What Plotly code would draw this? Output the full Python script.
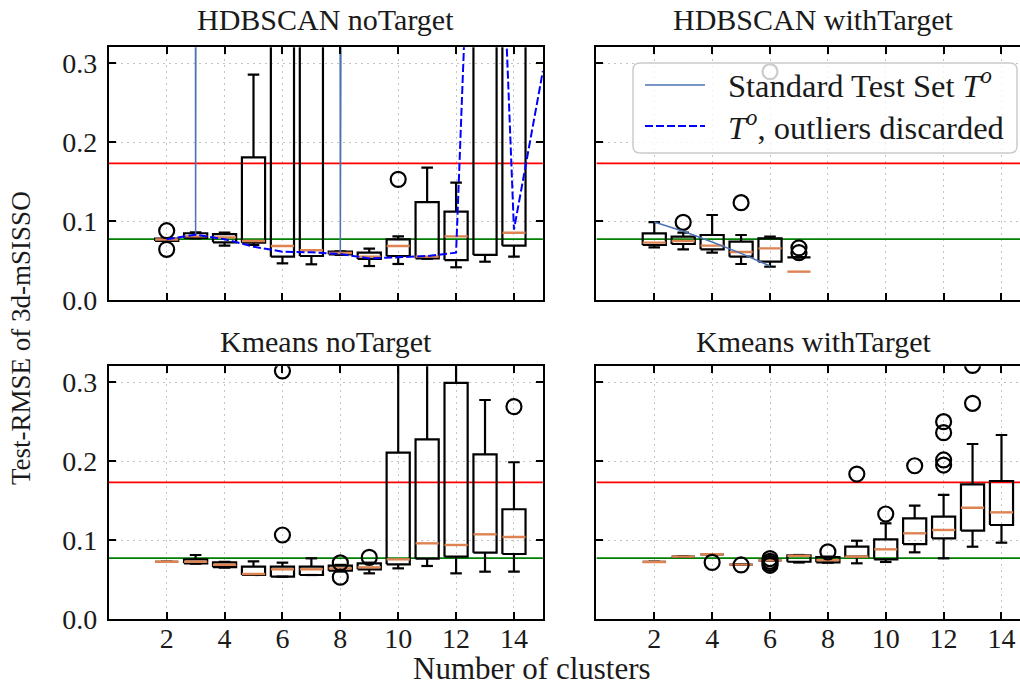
import plotly.graph_objects as go

# ---------------------------------------------------------------- data
clusters = [2, 3, 4, 5, 6, 7, 8, 9, 10, 11, 12, 13, 14]

# HDBSCAN noTarget
hn_q1 = [0.0748, 0.0785, 0.0730, 0.0725, 0.0549, 0.0557, 0.0578, 0.0519, 0.0557, 0.0528, 0.0506, 0.0570, 0.0688]
hn_med = [0.0765, 0.0805, 0.0793, 0.0747, 0.0684, 0.0630, 0.0595, 0.0549, 0.0684, 0.0549, 0.0805, 0.4600, 0.0852]
hn_q3 = [0.0778, 0.0845, 0.0835, 0.1806, 0.5200, 0.4800, 0.0612, 0.0599, 0.0768, 0.1240, 0.1118, 0.9500, 0.5400]
hn_lo = [0.0748, 0.0780, 0.0688, 0.0696, 0.0464, 0.0452, 0.0572, 0.0430, 0.0456, 0.0522, 0.0414, 0.0485, 0.0549]
hn_hi = [0.0778, 0.0857, 0.0852, 0.2852, 0.9000, 0.8800, 0.0616, 0.0650, 0.0806, 0.1675, 0.1485, 1.6000, 0.9500]
hn_fliers = {2: [0.0877, 0.0641], 10: [0.1527]}

# HDBSCAN withTarget
hw_pos = [2, 3, 4, 5, 6, 7]
hw_q1 = [0.0696, 0.0709, 0.0641, 0.0549, 0.0485, 0.0540]
hw_med = [0.0726, 0.0747, 0.0688, 0.0608, 0.0654, 0.0359]
hw_q3 = [0.0844, 0.0802, 0.0823, 0.0738, 0.0781, 0.0540]
hw_lo = [0.0667, 0.0641, 0.0599, 0.0456, 0.0422, 0.0540]
hw_hi = [0.0987, 0.0852, 0.1076, 0.0823, 0.0802, 0.0540]
hw_fliers = {3: [0.0983], 5: [0.1232], 6: [0.289], 7: [0.0660, 0.0600]}

# Kmeans noTarget
kn_q1 = [0.0725, 0.0705, 0.0656, 0.0557, 0.0536, 0.0557, 0.0612, 0.0629, 0.0692, 0.0764, 0.0789, 0.0840, 0.0823]
kn_med = [0.0725, 0.0725, 0.0686, 0.0570, 0.0629, 0.0629, 0.0641, 0.0654, 0.0755, 0.0958, 0.0937, 0.1072, 0.1038]
kn_q3 = [0.0725, 0.0755, 0.0718, 0.0662, 0.0662, 0.0662, 0.0675, 0.0705, 0.2105, 0.2275, 0.2990, 0.2085, 0.1389]
kn_lo = [0.0725, 0.0700, 0.0650, 0.0557, 0.0536, 0.0557, 0.0600, 0.0578, 0.0641, 0.0671, 0.0578, 0.0599, 0.0599]
kn_hi = [0.0725, 0.0810, 0.0722, 0.0730, 0.0713, 0.0768, 0.0685, 0.0713, 0.4500, 0.5000, 0.6000, 0.2772, 0.1984]
kn_fliers = {6: [0.1063, 0.3140], 8: [0.0710, 0.0530], 9: [0.0780], 14: [0.2688]}

# Kmeans withTarget
kw_q1 = [0.0722, 0.0789, 0.0819, 0.0688, 0.0743, 0.0725, 0.0718, 0.0789, 0.0756, 0.0949, 0.1021, 0.1118, 0.1190]
kw_med = [0.0722, 0.0789, 0.0819, 0.0688, 0.0743, 0.0800, 0.0745, 0.0789, 0.0882, 0.1085, 0.1127, 0.1409, 0.1350]
kw_q3 = [0.0722, 0.0789, 0.0819, 0.0688, 0.0743, 0.0805, 0.0785, 0.0915, 0.1009, 0.1274, 0.1295, 0.1705, 0.1747]
kw_lo = [0.0722, 0.0789, 0.0819, 0.0688, 0.0743, 0.0715, 0.0713, 0.0705, 0.0722, 0.0844, 0.0768, 0.0915, 0.0966]
kw_hi = [0.0722, 0.0789, 0.0819, 0.0688, 0.0743, 0.0810, 0.0790, 0.0991, 0.1211, 0.1435, 0.1570, 0.2215, 0.2329]
kw_fliers = {4: [0.0717], 5: [0.0684], 6: [0.0765, 0.0730, 0.0705, 0.0680], 8: [0.0850],
             9: [0.1835], 10: [0.1329], 11: [0.1940], 12: [0.2498, 0.2359, 0.2013, 0.1949],
             13: [0.2730, 0.3210]}

# mean test RMSE curves
hn_line_x = [2, 3, 4, 5, 6, 7, 8, 9, 10, 11, 12, 13, 14, 15]
hn_standard = [48.0, 0.0820, 52.0, 61.0, 57.0, 45.0, 0.0600, 39.0, 44.0, 50.0, 58.0, 63.0, 55.0, 60.0]
hn_discarded = [0.0768, 0.0827, 0.0770, 0.0675, 0.0612, 0.0603, 0.0582, 0.0527, 0.0540, 0.0557,
                0.0599, 1.0200, 0.0890, 0.2900]
hw_line_x = [2, 3, 4, 5, 6]
hw_standard = [0.0987, 0.0870, 0.0735, 0.0590, 0.0430]

# reference levels
level_red = 0.173
level_green = 0.077

panel_titles = ["HDBSCAN noTarget", "HDBSCAN withTarget", "Kmeans noTarget", "Kmeans withTarget"]
y_ticks = [0.0, 0.1, 0.2, 0.3]
y_ticktext = ["0.0", "0.1", "0.2", "0.3"]
x_ticks = [2, 4, 6, 8, 10, 12, 14]

# ---------------------------------------------------------------- style
W, H = 1020, 688
FONT = "Liberation Serif"
TXT = "#1a1a1a"
TICK_FS = 28
BOX_W = 0.8
CAP_W = 0.4
MED_COLOR = "#dd8452"
STD_COLOR = "#4c72b0"
GRID = "#c4c4c4"


def px_x(p):
    return p / W


def px_y(p):
    return 1 - p / H


XL = [px_x(108.8), px_x(542.9)]
XR = [px_x(596.4), 1.0]
YT = [px_y(300.0), px_y(47.2)]
YB = [px_y(619.0), px_y(366.2)]
FULL_RANGE = [0, 15]
RIGHT_RANGE = [0, 14.64]

fig = go.Figure()


def add_levels(xa, ya, rng):
    for lvl, col in [(level_red, "#ff0000"), (level_green, "#008000")]:
        fig.add_trace(go.Scatter(x=rng, y=[lvl, lvl], mode="lines", xaxis=xa, yaxis=ya,
                                 line=dict(color=col, width=1.6), showlegend=False,
                                 hoverinfo="skip"))


def add_boxes(pos, q1, med, q3, lo, hi, fliers, xa, ya):
    bx, by, mx, my = [], [], [], []
    for p, a, m, b, l, h in zip(pos, q1, med, q3, lo, hi):
        bx += [p - BOX_W / 2, p + BOX_W / 2, p + BOX_W / 2, p - BOX_W / 2, p - BOX_W / 2, None]
        by += [a, a, b, b, a, None]
        bx += [p, p, None, p, p, None]
        by += [a, l, None, b, h, None]
        bx += [p - CAP_W / 2, p + CAP_W / 2, None, p - CAP_W / 2, p + CAP_W / 2, None]
        by += [l, l, None, h, h, None]
        mx += [p - BOX_W / 2, p + BOX_W / 2, None]
        my += [m, m, None]
    fig.add_trace(go.Scatter(x=bx, y=by, mode="lines", xaxis=xa, yaxis=ya,
                             line=dict(color="black", width=2.2), showlegend=False,
                             hoverinfo="skip"))
    fig.add_trace(go.Scatter(x=mx, y=my, mode="lines", xaxis=xa, yaxis=ya,
                             line=dict(color=MED_COLOR, width=2.4), showlegend=False,
                             hoverinfo="skip"))
    fx, fy = [], []
    for p, vals in fliers.items():
        for v in vals:
            fx.append(p)
            fy.append(v)
    fig.add_trace(go.Scatter(x=fx, y=fy, mode="markers", xaxis=xa, yaxis=ya,
                             marker=dict(symbol="circle-open", size=15, color="black",
                                         line=dict(width=2.2, color="black")),
                             showlegend=False, hoverinfo="skip"))


add_levels("x", "y", FULL_RANGE)
add_levels("x2", "y2", RIGHT_RANGE)
add_levels("x3", "y3", FULL_RANGE)
add_levels("x4", "y4", RIGHT_RANGE)

add_boxes(clusters, hn_q1, hn_med, hn_q3, hn_lo, hn_hi, hn_fliers, "x", "y")
add_boxes(hw_pos, hw_q1, hw_med, hw_q3, hw_lo, hw_hi, hw_fliers, "x2", "y2")
add_boxes(clusters, kn_q1, kn_med, kn_q3, kn_lo, kn_hi, kn_fliers, "x3", "y3")
add_boxes(clusters, kw_q1, kw_med, kw_q3, kw_lo, kw_hi, kw_fliers, "x4", "y4")

fig.add_trace(go.Scatter(x=hn_line_x, y=hn_standard, mode="lines", xaxis="x", yaxis="y",
                         line=dict(color=STD_COLOR, width=1.5), showlegend=False))
fig.add_trace(go.Scatter(x=hn_line_x, y=hn_discarded, mode="lines", xaxis="x", yaxis="y",
                         line=dict(color="#0000ff", width=2, dash="8px,3px"), showlegend=False))
fig.add_trace(go.Scatter(x=hw_line_x, y=hw_standard, mode="lines", xaxis="x2", yaxis="y2",
                         line=dict(color=STD_COLOR, width=1.5), showlegend=False))

# legend frame with rounded corners, drawn over the top-right panel
lx0, lx1, ly0, ly1, r = 633, 1017, 63, 153, 7
path = (f"M {px_x(lx0 + r)},{px_y(ly0)} L {px_x(lx1 - r)},{px_y(ly0)} "
        f"Q {px_x(lx1)},{px_y(ly0)} {px_x(lx1)},{px_y(ly0 + r)} "
        f"L {px_x(lx1)},{px_y(ly1 - r)} Q {px_x(lx1)},{px_y(ly1)} {px_x(lx1 - r)},{px_y(ly1)} "
        f"L {px_x(lx0 + r)},{px_y(ly1)} Q {px_x(lx0)},{px_y(ly1)} {px_x(lx0)},{px_y(ly1 - r)} "
        f"L {px_x(lx0)},{px_y(ly0 + r)} Q {px_x(lx0)},{px_y(ly0)} {px_x(lx0 + r)},{px_y(ly0)} Z")
shapes = [
    dict(type="path", xref="paper", yref="paper", path=path,
         fillcolor="rgba(255,255,255,0.8)", line=dict(color="#cccccc", width=1.5), layer="above"),
    dict(type="line", xref="paper", yref="paper", x0=px_x(645), x1=px_x(705),
         y0=px_y(85), y1=px_y(85), line=dict(color=STD_COLOR, width=1.5), layer="above"),
    dict(type="line", xref="paper", yref="paper", x0=px_x(645), x1=px_x(705),
         y0=px_y(126), y1=px_y(126), line=dict(color="#0000ff", width=2, dash="8px,3px"),
         layer="above"),
]

annotations = [
    dict(text="Standard Test Set <i>T<sup>o</sup></i>", x=px_x(726), y=px_y(83),
         xanchor="left", yanchor="middle", size=32.5),
    dict(text="<i>T<sup>o</sup></i>, outliers discarded", x=px_x(726), y=px_y(125),
         xanchor="left", yanchor="middle", size=32.5),
    dict(text=panel_titles[0], x=(XL[0] + XL[1]) / 2, y=px_y(19), xanchor="center",
         yanchor="middle", size=30),
    dict(text=panel_titles[1], x=px_x(813.5), y=px_y(19), xanchor="center", yanchor="middle",
         size=30),
    dict(text=panel_titles[2], x=(XL[0] + XL[1]) / 2, y=px_y(341), xanchor="center",
         yanchor="middle", size=30),
    dict(text=panel_titles[3], x=px_x(813.5), y=px_y(341), xanchor="center", yanchor="middle",
         size=30),
    dict(text="Number of clusters", x=px_x(532), y=px_y(668), xanchor="center", yanchor="middle",
         size=31),
    dict(text="Test-RMSE of 3d-mSISSO", x=px_x(21), y=px_y(338), xanchor="center",
         yanchor="middle", textangle=-90, size=27),
]
for a in annotations:
    sz = a.pop("size")
    a.update(xref="paper", yref="paper", showarrow=False, font=dict(family=FONT, size=sz, color=TXT))


def xaxis(domain, rng, labels, anchor):
    return dict(domain=domain, range=rng, anchor=anchor, tickvals=x_ticks, ticks="inside", ticklen=7,
                tickwidth=1.5, tickcolor="black", showline=True, linecolor="black", linewidth=2,
                mirror="ticks", showgrid=True, gridcolor=GRID, gridwidth=1.3, griddash="2px,4px",
                zeroline=False, showticklabels=labels, ticklabelstandoff=-7, automargin=False,
                tickfont=dict(family=FONT, size=TICK_FS, color=TXT))


def yaxis(domain, anchor, labels, mirror):
    return dict(domain=domain, anchor=anchor, range=[0, 0.32], tickvals=y_ticks, ticktext=y_ticktext,
                ticks="inside", ticklen=7, tickwidth=1.5, tickcolor="black", showline=True,
                linecolor="black", linewidth=2, mirror=mirror, showgrid=True, gridcolor=GRID,
                gridwidth=1.3, griddash="2px,4px", zeroline=False, showticklabels=labels,
                ticklabelstandoff=4, automargin=False,
                tickfont=dict(family=FONT, size=TICK_FS, color=TXT))


fig.update_layout(
    width=W, height=H,
    margin=dict(l=0, r=0, t=0, b=0, autoexpand=False),
    paper_bgcolor="white", plot_bgcolor="white",
    showlegend=False,
    xaxis=xaxis(XL, FULL_RANGE, False, "y"),
    yaxis=yaxis(YT, "x", True, "ticks"),
    xaxis2=xaxis(XR, RIGHT_RANGE, False, "y2"),
    yaxis2=yaxis(YT, "x2", False, False),
    xaxis3=xaxis(XL, FULL_RANGE, True, "y3"),
    yaxis3=yaxis(YB, "x3", True, "ticks"),
    xaxis4=xaxis(XR, RIGHT_RANGE, True, "y4"),
    yaxis4=yaxis(YB, "x4", False, False),
    shapes=shapes,
    annotations=annotations,
)

fig.write_html("out.html")
